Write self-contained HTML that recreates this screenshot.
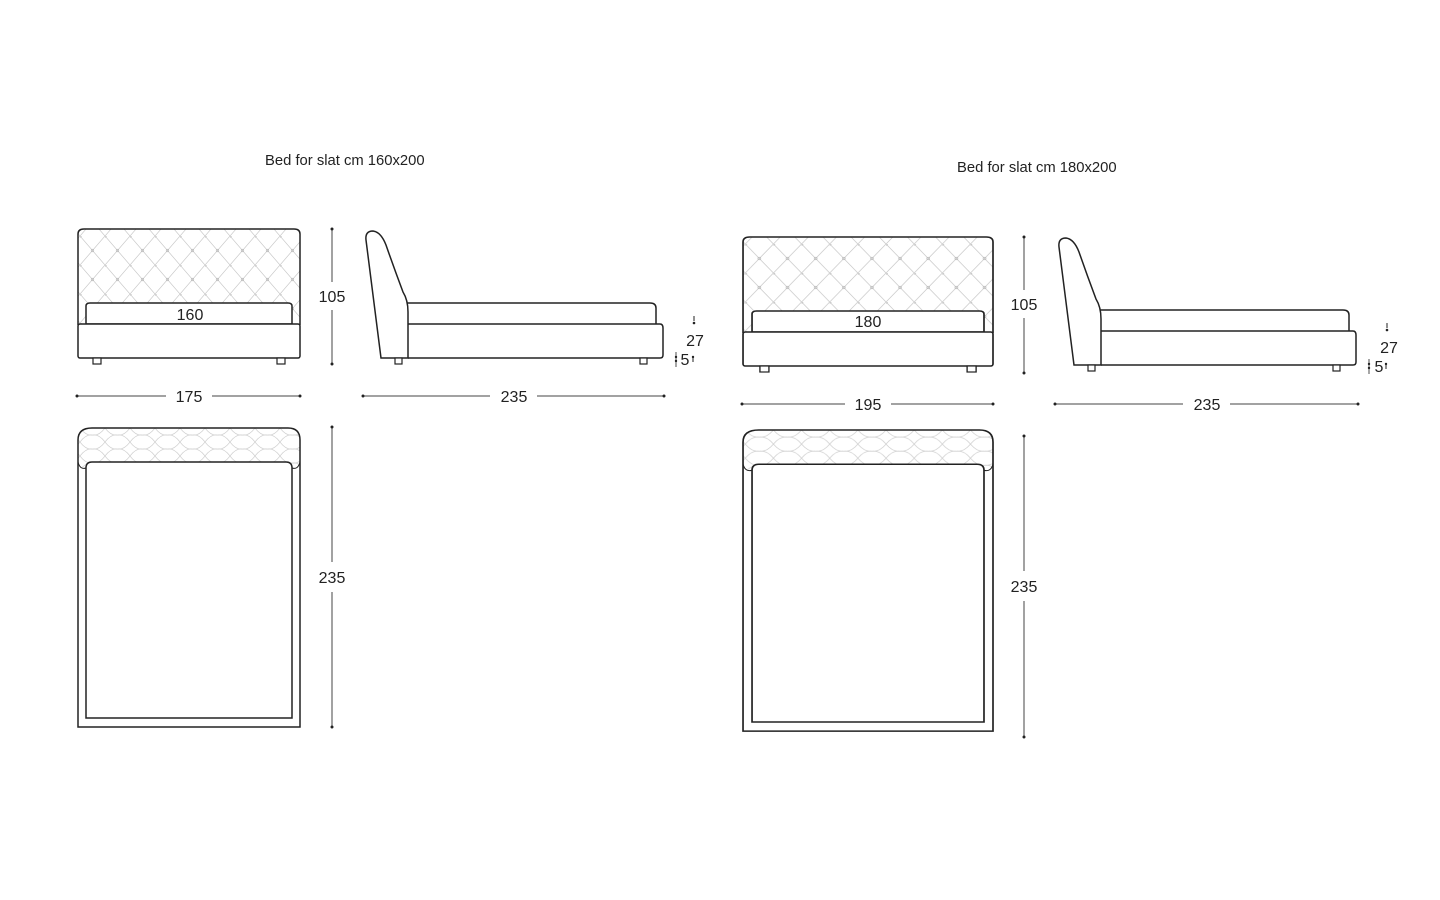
<!DOCTYPE html>
<html><head><meta charset="utf-8"><style>
html,body{margin:0;padding:0;background:#fff;width:1440px;height:900px;overflow:hidden}
svg{display:block}
text{font-family:"Liberation Sans Narrow","Liberation Sans",sans-serif;fill:#222}
.t{font-family:"Liberation Sans",sans-serif;font-size:14.8px}
.n{font-size:16px}
</style></head><body>
<svg width="1440" height="900" viewBox="0 0 1440 900" xmlns="http://www.w3.org/2000/svg">
<defs>
<pattern id="tuft" x="80" y="236" width="25" height="29" patternUnits="userSpaceOnUse">
<path d="M0 0 L12.5 14.5 L25 0 M0 29 L12.5 14.5 L25 29" stroke="#c8c8c8" stroke-width="0.7" fill="none"/>
<circle cx="0" cy="0" r="1.3" fill="none" stroke="#bbb" stroke-width="0.6"/>
<circle cx="12.5" cy="14.5" r="1.3" fill="none" stroke="#bbb" stroke-width="0.6"/>
</pattern>
<pattern id="tuft2" x="80" y="428" width="25" height="14" patternUnits="userSpaceOnUse">
<path d="M0 0 Q6 8 12.5 7 Q19 8 25 0 M0 14 Q6 6 12.5 7 Q19 6 25 14" stroke="#d0d0d0" stroke-width="0.7" fill="none"/>
</pattern>
<g id="front">
<path d="M78 325 L78 234 Q78 229 84 229 L294 229 Q300 229 300 234 L300 325" fill="url(#tuft)" stroke="#222" stroke-width="1.5"/>
<path d="M86 324 L86 306 Q86 303 90 303 L288 303 Q292 303 292 306 L292 324 Z" fill="#fff" stroke="#222" stroke-width="1.5"/>
<rect x="78" y="324" width="222" height="34" rx="2" fill="#fff" stroke="#222" stroke-width="1.5"/>
<rect x="93" y="358" width="8" height="6" fill="#fff" stroke="#222" stroke-width="1.2"/>
<rect x="277" y="358" width="8" height="6" fill="#fff" stroke="#222" stroke-width="1.2"/>
</g>
<g id="side">
<path d="M406 324 L406 303 L650 303 Q656 303 656 308 L656 324" fill="#fff" stroke="#222" stroke-width="1.5"/>
<path d="M408 324 L660 324 Q663 324 663 328 L663 355 Q663 358 660 358 L408 358" fill="#fff" stroke="#222" stroke-width="1.5"/>
<path d="M381 358 L366 240 Q365 231 373 231 Q381 232 386 245 Q394 268 403 292 Q408 300 408 312 L408 358 Z" fill="#fff" stroke="#222" stroke-width="1.5"/>
<rect x="395" y="358" width="7" height="6" fill="#fff" stroke="#222" stroke-width="1.2"/>
<rect x="640" y="358" width="7" height="6" fill="#fff" stroke="#222" stroke-width="1.2"/>
<line x1="694" y1="316" x2="694" y2="321" stroke="#222"/><circle cx="694" cy="323" r="1.3" fill="#222"/>
<line x1="693" y1="357" x2="693" y2="362" stroke="#222"/><circle cx="693" cy="357" r="1.2" fill="#222"/>
<line x1="676" y1="352" x2="676" y2="367" stroke="#222" stroke-width="0.8"/><circle cx="676" cy="357" r="1.2" fill="#222"/><circle cx="676" cy="361" r="1.2" fill="#222"/>
</g>
<g id="top">
<path d="M78 727 L78 440 Q78 428 92 428 L288 428 Q300 428 300 440 L300 462 Q300 470 293 468 L86 468 Q78 470 78 462 Z" fill="url(#tuft2)" stroke="none"/>
<path d="M78 727 L78 440 Q78 428 92 428 L288 428 Q300 428 300 440 L300 727 Z" fill="none" stroke="#222" stroke-width="1.5"/>
<path d="M86 718 L86 468 Q86 462 92 462 L286 462 Q292 462 292 468 L292 718 Z" fill="#fff" stroke="#222" stroke-width="1.5"/>
<path d="M78 462 Q80 470 86 468 M300 462 Q298 470 292 468" fill="none" stroke="#222"/>
</g>
</defs>

<text class="t" x="265" y="165">Bed for slat cm 160x200</text>
<text class="t" x="957" y="172">Bed for slat cm 180x200</text>

<!-- LEFT -->
<use href="#front"/>
<text class="n" x="190" y="320" text-anchor="middle">160</text>
<line x1="332" y1="229" x2="332" y2="282" stroke="#444"/><line x1="332" y1="310" x2="332" y2="364" stroke="#444"/>
<circle cx="332" cy="229" r="1.5" fill="#222"/><circle cx="332" cy="364" r="1.5" fill="#222"/>
<text class="n" x="332" y="302" text-anchor="middle">105</text>
<line x1="77" y1="396" x2="166" y2="396" stroke="#444"/><line x1="212" y1="396" x2="300" y2="396" stroke="#444"/>
<circle cx="77" cy="396" r="1.5" fill="#222"/><circle cx="300" cy="396" r="1.5" fill="#222"/>
<text class="n" x="189" y="402" text-anchor="middle">175</text>

<use href="#side"/>
<text class="n" x="695" y="346" text-anchor="middle">27</text>
<text class="n" x="685" y="365" text-anchor="middle">5</text>
<line x1="363" y1="396" x2="490" y2="396" stroke="#444"/><line x1="537" y1="396" x2="664" y2="396" stroke="#444"/>
<circle cx="363" cy="396" r="1.5" fill="#222"/><circle cx="664" cy="396" r="1.5" fill="#222"/>
<text class="n" x="514" y="402" text-anchor="middle">235</text>

<use href="#top"/>
<line x1="332" y1="427" x2="332" y2="562" stroke="#444"/><line x1="332" y1="592" x2="332" y2="727" stroke="#444"/>
<circle cx="332" cy="427" r="1.5" fill="#222"/><circle cx="332" cy="727" r="1.5" fill="#222"/>
<text class="n" x="332" y="583" text-anchor="middle">235</text>

<!-- RIGHT -->
<use href="#front" transform="matrix(1.126,0,0,1,655.2,8)"/>
<text class="n" x="868" y="327" text-anchor="middle">180</text>
<line x1="1024" y1="237" x2="1024" y2="290" stroke="#444"/><line x1="1024" y1="318" x2="1024" y2="373" stroke="#444"/>
<circle cx="1024" cy="237" r="1.5" fill="#222"/><circle cx="1024" cy="373" r="1.5" fill="#222"/>
<text class="n" x="1024" y="310" text-anchor="middle">105</text>
<line x1="742" y1="404" x2="845" y2="404" stroke="#444"/><line x1="891" y1="404" x2="993" y2="404" stroke="#444"/>
<circle cx="742" cy="404" r="1.5" fill="#222"/><circle cx="993" cy="404" r="1.5" fill="#222"/>
<text class="n" x="868" y="410" text-anchor="middle">195</text>

<use href="#side" transform="translate(693,7)"/>
<text class="n" x="1389" y="353" text-anchor="middle">27</text>
<text class="n" x="1379" y="372" text-anchor="middle">5</text>
<line x1="1055" y1="404" x2="1183" y2="404" stroke="#444"/><line x1="1230" y1="404" x2="1358" y2="404" stroke="#444"/>
<circle cx="1055" cy="404" r="1.5" fill="#222"/><circle cx="1358" cy="404" r="1.5" fill="#222"/>
<text class="n" x="1207" y="410" text-anchor="middle">235</text>

<use href="#top" transform="matrix(1.126,0,0,1.007,655.2,-1)"/>
<line x1="1024" y1="436" x2="1024" y2="571" stroke="#444"/><line x1="1024" y1="601" x2="1024" y2="737" stroke="#444"/>
<circle cx="1024" cy="436" r="1.5" fill="#222"/><circle cx="1024" cy="737" r="1.5" fill="#222"/>
<text class="n" x="1024" y="592" text-anchor="middle">235</text>
</svg>
</body></html>
